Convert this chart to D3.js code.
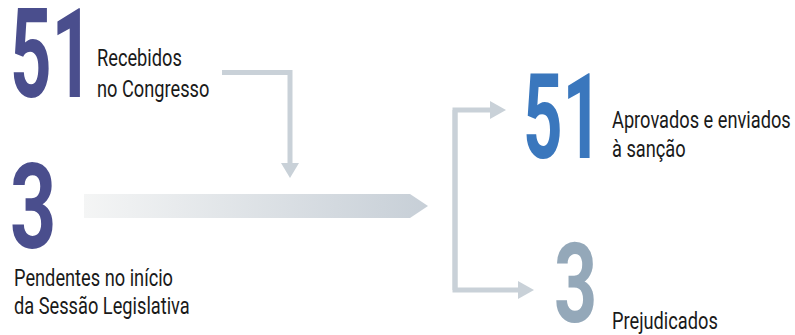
<!DOCTYPE html>
<html>
<head>
<meta charset="utf-8">
<script src="https://cdn.jsdelivr.net/npm/d3@7"></script>
<style>
  body { margin: 0; background: #fff; }
  text { font-family: Roboto, "Noto Sans", sans-serif; }
</style>
</head>
<body>
<div class="chart"></div>
<script>
// Fluxo de proposições na Sessão Legislativa

var counts = [51, 3, 51, 3];
var labels = [
  ["Recebidos", "no Congresso"],
  ["Pendentes no início", "da Sessão Legislativa"],
  ["Aprovados e enviados", "à sanção"],
  ["Prejudicados"]
];
var groups = ["entrada", "entrada", "aprovado", "prejudicado"];

var svgWidth = 795;
var svgHeight = 335;

var svg = d3.select(".chart")
  .append("svg")
  .attr("width", svgWidth)
  .attr("height", svgHeight);

var color = d3.scaleOrdinal()
  .domain(["entrada", "aprovado", "prejudicado"])
  .range(["#4a4e8d", "#3a77bd", "#94a8b9"]);

// layout for each block: number position/size/stretch, label position
var layout = [
  { nx: 14, ny: 97, size: 125, sx: 0.58, lx: 97, ly: [66, 97] },
  { nx: 14, ny: 248, size: 119, sx: 0.68, lx: 14, ly: [286, 314] },
  { nx: 527, ny: 158, size: 119, sx: 0.58, lx: 612, ly: [128, 157] },
  { nx: 558, ny: 322, size: 111, sx: 0.68, lx: 612, ly: [329] }
];

var arrowColor = "#c9d1d8";

// gradient for the main bar
var defs = svg.append("defs");
var grad = defs.append("linearGradient")
  .attr("id", "barGrad")
  .attr("gradientUnits", "userSpaceOnUse")
  .attr("x1", 84).attr("x2", 428)
  .attr("y1", 0).attr("y2", 0);
grad.append("stop").attr("offset", "0%").attr("stop-color", "#f4f5f5");
grad.append("stop").attr("offset", "100%").attr("stop-color", "#c7cfd7");

svg.append("path")
  .attr("d", "M84,194 H410 L428,206 L410,218 H84 Z")
  .attr("fill", "url(#barGrad)");

// connectors
var lines = [
  "M222,72.5 H290 V164",
  "M455,290 V110 H492",
  "M455,110 V290 H520"
];
svg.selectAll(".link")
  .data(lines)
  .enter()
  .append("path")
  .attr("class", "link")
  .attr("d", d => d)
  .attr("fill", "none")
  .attr("stroke", arrowColor)
  .attr("stroke-width", 5);

var heads = [
  "M281,163 L299,163 L290,178 Z",
  "M490,101 L506,110 L490,119 Z",
  "M518,281 L534,290 L518,299 Z"
];
svg.selectAll(".head")
  .data(heads)
  .enter()
  .append("path")
  .attr("class", "head")
  .attr("d", d => d)
  .attr("fill", arrowColor);

// big numbers
svg.selectAll(".num")
  .data(counts)
  .enter()
  .append("text")
  .attr("class", "num")
  .attr("transform", (d, i) => `translate(${layout[i].nx - 4}, ${layout[i].ny}) scale(${layout[i].sx}, 1)`)
  .attr("font-size", (d, i) => layout[i].size)
  .attr("font-weight", 700)
  .attr("fill", (d, i) => color(groups[i]))
  .text(d => d);

// labels
labels.forEach(function(lines, i) {
  var g = svg.append("g");
  lines.forEach(function(t, j) {
    g.append("text")
      .attr("transform", `translate(${layout[i].lx}, ${layout[i].ly[j]}) scale(0.76, 1)`)
      .attr("font-size", 24)
      .attr("fill", "#1a1a1a")
      .text(t);
  });
});
</script>
</body>
</html>
